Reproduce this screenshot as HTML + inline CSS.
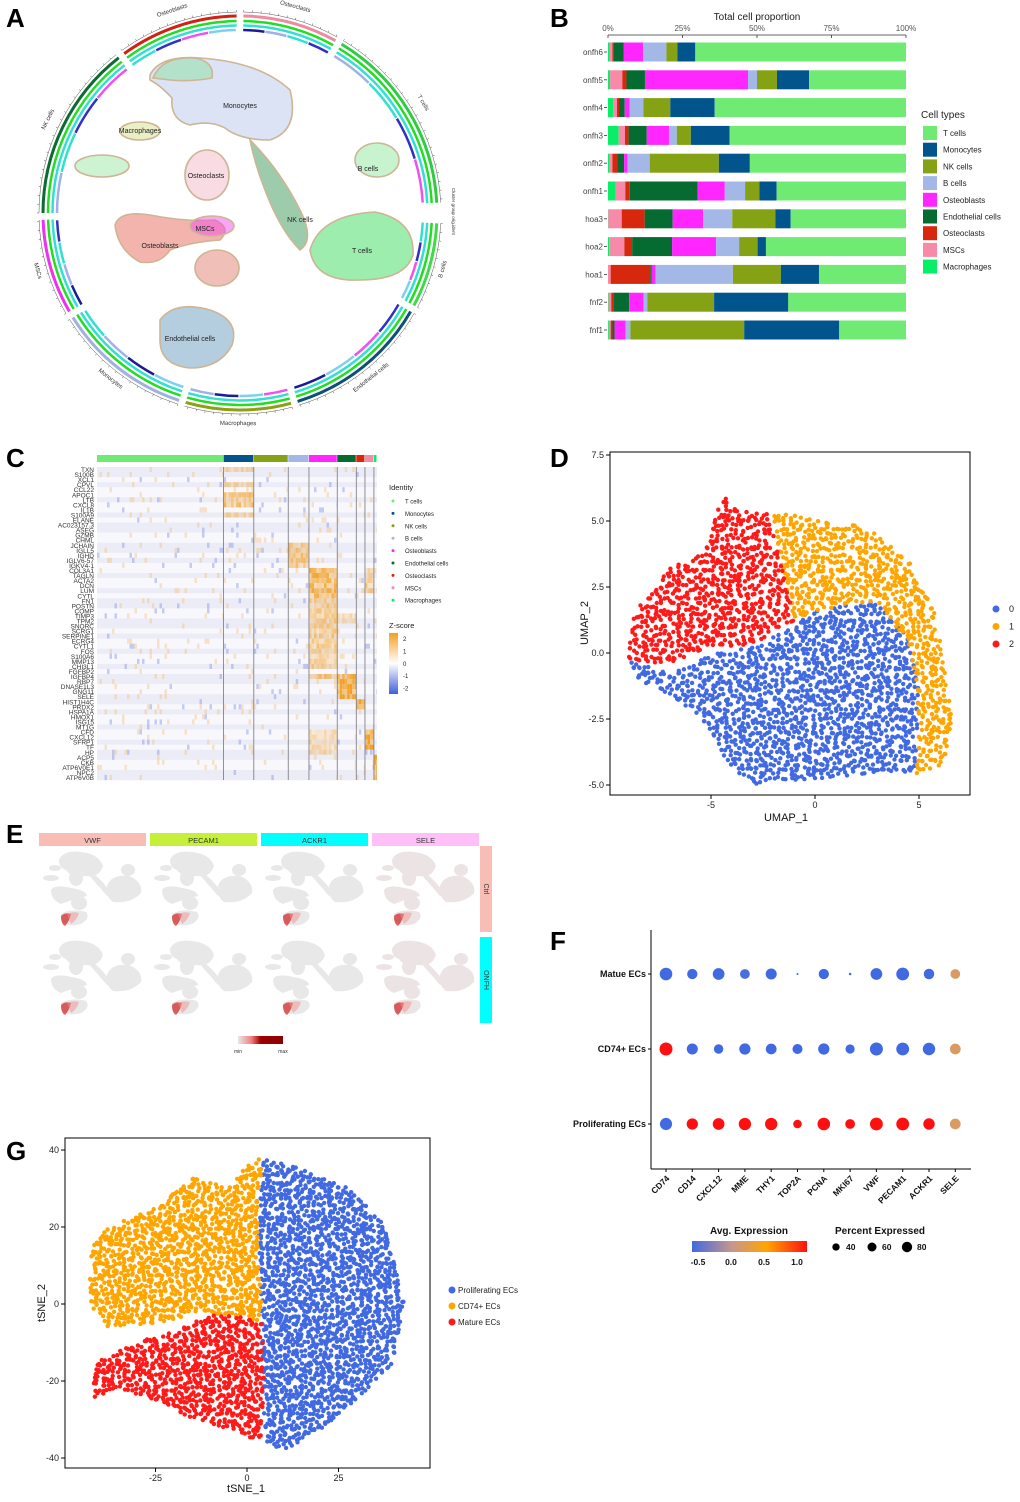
<!DOCTYPE html>
<html><head><meta charset="utf-8"><style>
body{margin:0;background:#fff;font-family:"Liberation Sans",Arial,sans-serif}
svg text{font-family:"Liberation Sans",Arial,sans-serif}
</style></head><body>
<svg id="fig" width="1020" height="1497" viewBox="0 0 1020 1497" xmlns="http://www.w3.org/2000/svg">
<rect width="1020" height="1497" fill="#fff"/>
<g font-weight="bold" font-size="26" fill="#000">
<text x="6" y="27">A</text>
<text x="550" y="27">B</text>
<text x="6" y="467">C</text>
<text x="550" y="467">D</text>
<text x="6" y="843">E</text>
<text x="550" y="950">F</text>
<text x="6" y="1160">G</text>
</g>
<g id="pA"></g>
<g id="pB"></g>
<g id="pC"></g>
<g id="pD"></g>
<g id="pE"></g>
<g id="pF"></g>
<g id="pG"></g>
</svg>
<script>
// ---------- DATA ----------
const cellTypes=["Macrophages","MSCs","Osteoclasts","Endothelial cells","Osteoblasts","B cells","NK cells","Monocytes","T cells"];
const typeColors=["#08EE66","#F78AA8","#D7280E","#056B31","#FF26FF","#A4B8E8","#84A214","#02558C","#6FEB74"];
const samples=["onfh6","onfh5","onfh4","onfh3","onfh2","onfh1","hoa3","hoa2","hoa1","fnf2","fnf1"];
const propMac=[0.5,0.7,1.8,3.6,0.6,2.5,0.1,0.4,0,0.2,0.3];
const propMSC=[1,4.1,1.2,2.1,0.9,3.3,4.5,5.1,0.9,0.9,0.6];
const propOstc=[0.3,1.4,0.7,1.2,1.7,1.5,7.7,2.6,13.3,0.7,0.6];
const propEndo=[3.4,6.2,1.9,6.1,2.2,22.8,9.4,13.4,0.5,5.3,0.7];
const propOstb=[6.6,34.6,1.7,7.5,1.2,9.1,10.2,14.8,1.3,4.9,3.7];
const propB=[7.8,3,4.6,2.6,7.4,6.8,9.8,7.7,25.9,1.2,1.6];
const propNK=[3.7,6.7,9,4.7,23.2,4.8,14.5,6.2,16.1,22.4,38.2];
const propMono=[6,10.8,14.9,13,10.4,5.8,5.1,2.8,12.8,24.9,31.9];
const propT=[70.7,32.5,64.2,59.2,52.4,43.4,38.7,47,29.2,39.5,22.4];
const xTicksB=["0%","25%","50%","75%","100%"];
const legendOrderB=["T cells","Monocytes","NK cells","B cells","Osteoblasts","Endothelial cells","Osteoclasts","MSCs","Macrophages"];

const genesF=["CD74","CD14","CXCL12","MME","THY1","TOP2A","PCNA","MKI67","VWF","PECAM1","ACKR1","SELE"];
const groupsF=["Matue ECs","CD74+ ECs","Proliferating ECs"];
const pctMatue=[75,50,65,45,58,2,50,3,65,78,52,45];
const pctCD74=[80,58,42,60,55,48,60,40,80,78,73,55];
const pctProl=[70,60,65,72,72,35,75,45,78,78,62,55];
const expMatue=[-0.6,-0.6,-0.6,-0.55,-0.6,-0.6,-0.6,-0.6,-0.6,-0.6,-0.6,0.15];
const expCD74=[1.1,-0.6,-0.6,-0.6,-0.6,-0.6,-0.6,-0.6,-0.6,-0.6,-0.6,0.15];
const expProl=[-0.6,1.1,1.1,1.1,1.1,1.1,1.1,1.1,1.1,1.1,1.1,0.15];

const dBlue=[[-9,-0.2],[-7,-0.8],[-5,0],[-3,0.2],[-1,1],[0,1.6],[3,2],[4.6,0.5],[5,-1.5],[4.8,-4.5],[2,-4.6],[0,-4.8],[-2,-4.8],[-3,-5],[-4,-4.5],[-5,-3],[-6.5,-1.8],[-8.5,-1]];
const dOrange=[[-2,5.3],[0,5.1],[2.5,4.8],[4.5,3.5],[5.8,1.5],[6.2,-0.5],[6.6,-2.5],[6.2,-4.2],[4.8,-4.6],[5,-2.5],[4.6,0.2],[3,2],[0,1.6],[-1,1.2],[-1.6,3]];
const dRed=[[-9,-0.3],[-8.7,1.5],[-7,3.2],[-5.3,4],[-4.8,5.2],[-4.3,6],[-3.8,5.4],[-2.2,5.3],[-1.5,3],[-1,1.2],[-3,0.3],[-5,0.2],[-7,-0.4]];
const dXTicks=[-5,0,5];const dYTicks=[-5,-2.5,0,2.5,5,7.5];
const gBlue=[[4,38],[15,35],[28,30],[38,20],[43,0],[40,-15],[30,-25],[20,-33],[10,-38],[5,-36],[4,-20],[4,0],[3,20]];
const gOrange=[[-43,15],[-38,20],[-25,25],[-15,33],[-5,30],[0,36],[4,38],[3,20],[4,0],[3,-5],[-5,-3],[-12,-2],[-25,-5],[-38,-6],[-43,0]];
const gRed=[[-43,-25],[-41,-15],[-30,-10],[-20,-7],[-10,-3],[-3,-3],[4,-5],[5,-20],[4,-36],[-3,-33],[-15,-30],[-25,-25],[-35,-22]];
const gXTicks=[-25,0,25];const gYTicks=[-40,-20,0,20,40];

const heatGenes=["TXN","S100B","XCL1","CPVL","CCL22","APOC1","LTB","CXCL8","IL1B","S100A9","ELANE","AC023157.3","ASEG","GZMB","CHML","JCHAIN","IGLL5","IGHD","IGLV6-57","IGKV4-1","COL3A1","TAGLN","ACTA2","DCN","LUM","CYTL","FN1","POSTN","COMP","TIMP3","TPM2","SNORC","SCRG1","SERPINE1","ECRG4","CYTL1","FOS","S100A6","MMP13","CHI3L1","FGFBP2","IGFBP4","RBP7","DNASE1L3","GNG11","SELE","HIST1H4C","PRDX2","HSPA1A","HMOX1","ISG15","MT1G","CFD","CXCL12","SFRP1","TF","HP","ACP5","CKB","ATP6V0E1","NPC2","ATP6V0B"];
const heatGroups=["T cells","Monocytes","NK cells","B cells","Osteoblasts","Endothelial cells","Osteoclasts","MSCs","Macrophages"];
const heatGroupFrac=[45.2,10.8,12.3,7.4,10.1,6.8,3.1,3.2,1.1];
const heatGroupColors=["#6FEB74","#02558C","#84A214","#A4B8E8","#FF26FF","#056B31","#D7280E","#F78AA8","#08EE66"];
const heatBlocks=[[0,0,1,0.8],[3,3,1,0.9],[5,7,1,1.4],[9,9,1,0.9],[15,19,3,1.2],[20,25,4,1.6],[26,39,4,1.1],[20,24,7,1],[29,30,5,0.8],[41,45,5,2],[46,47,6,2],[52,55,7,2.2],[57,61,8,2],[41,41,4,1.2],[52,56,4,0.8]];

// ---------- helpers ----------
const NS="http://www.w3.org/2000/svg";
function mk(par,tag,attrs,txt){const e=document.createElementNS(NS,tag);for(const k in attrs)e.setAttribute(k,attrs[k]);if(txt!==undefined)e.textContent=txt;par.appendChild(e);return e;}
function hash(a,b){let h=(a*374761393+b*668265263)>>>0;h=(h^(h>>>13))*1274126177>>>0;return ((h^(h>>>16))>>>0)/4294967296;}
function inPoly(p,poly){let c=false;for(let i=0,j=poly.length-1;i<poly.length;j=i++){const [xi,yi]=poly[i],[xj,yj]=poly[j];if(((yi>p[1])!=(yj>p[1]))&&(p[0]<(xj-xi)*(p[1]-yi)/(yj-yi)+xi))c=!c;}return c;}

// ---------- Panel B ----------
(function(){
const g=document.getElementById('pB');
const x0=608,x1=906,y0=52,step=27.8,bh=19;
const sx=v=>x0+(x1-x0)*v/100;
mk(g,'text',{x:757,y:20,'font-size':10,'text-anchor':'middle',fill:'#222',},'Total cell proportion');
mk(g,'line',{x1:x0,x2:x1,y1:35,y2:35,stroke:'#333','stroke-width':0.8,});
xTicksB.forEach((t,i)=>{const x=sx(i*25);mk(g,'line',{x1:x,x2:x,y1:35,y2:38,stroke:'#333','stroke-width':0.8});
 mk(g,'text',{x:x,y:31,'font-size':8,'text-anchor':'middle',fill:'#555',},t);});
const series=[propMac,propMSC,propOstc,propEndo,propOstb,propB,propNK,propMono,propT];
samples.forEach((s,i)=>{const yc=y0+i*step;let acc=0;
 mk(g,'text',{x:603,y:yc+3,'font-size':8,'text-anchor':'end',fill:'#444',},s);
 mk(g,'line',{x1:604,x2:607,y1:yc,y2:yc,stroke:'#333','stroke-width':0.8});
 series.forEach((ser,k)=>{const v=ser[i];const r=mk(g,'rect',{x:sx(acc),y:yc-bh/2,width:Math.max(0,sx(acc+v)-sx(acc)),height:bh,fill:typeColors[k]});
  acc+=v;});});
mk(g,'text',{x:921,y:118,'font-size':10,fill:'#222',},'Cell types');
legendOrderB.forEach((n,i)=>{const y=126+i*16.7;const c=typeColors[cellTypes.indexOf(n)];
 mk(g,'rect',{x:923,y:y,width:14,height:14,fill:c,});
 mk(g,'text',{x:943,y:y+10,'font-size':8,fill:'#222',},n);});
})();

// ---------- Panel F ----------
(function(){
const g=document.getElementById('pF');
const ax=651,ab=1169,c0=666,cs=26.3,rows=[974,1049,1124];
function col(v){const st=[[-0.6,[65,105,225]],[0,[200,150,140]],[0.5,[255,165,0]],[1.1,[255,16,16]]];
 v=Math.max(-0.6,Math.min(1.1,v));for(let i=0;i<st.length-1;i++){if(v<=st[i+1][0]){const t=(v-st[i][0])/(st[i+1][0]-st[i][0]);const a=st[i][1],b=st[i+1][1];return 'rgb('+a.map((q,k)=>Math.round(q+(b[k]-q)*t)).join(',')+')';}}return 'rgb(255,16,16)';}
const rad=p=>Math.sqrt(p/80)*6.5;
mk(g,'line',{x1:ax,x2:ax,y1:930,y2:ab,stroke:'#000','stroke-width':1,});
mk(g,'line',{x1:ax,x2:971,y1:ab,y2:ab,stroke:'#000','stroke-width':1,});
const pcts=[pctMatue,pctCD74,pctProl],exps=[expMatue,expCD74,expProl];
groupsF.forEach((gn,r)=>{mk(g,'text',{x:646,y:rows[r]+3,'font-size':9,'font-weight':'bold','text-anchor':'end',fill:'#111',},gn);
 mk(g,'line',{x1:648,x2:ax,y1:rows[r],y2:rows[r],stroke:'#000'});
 genesF.forEach((gene,c)=>{const d=mk(g,'circle',{cx:c0+c*cs,cy:rows[r],r:rad(pcts[r][c]),fill:col(exps[r][c])});
  });});
genesF.forEach((gene,c)=>{const x=c0+c*cs;mk(g,'line',{x1:x,x2:x,y1:ab,y2:ab+3,stroke:'#000'});
 mk(g,'text',{x:x+4,y:ab+10,'font-size':8.5,'font-weight':'bold','text-anchor':'end',fill:'#111',transform:'rotate(-45 '+(x+4)+' '+(ab+10)+')',},gene);});
const defs=mk(g,'defs',{});const lg=mk(defs,'linearGradient',{id:'fgrad'});
[[0,'#4169E1'],[0.35,'#C8968C'],[0.65,'#FFA500'],[1,'#FF1010']].forEach(s=>mk(lg,'stop',{offset:s[0],'stop-color':s[1]}));
mk(g,'text',{x:749,y:1234,'font-size':10,'font-weight':'bold','text-anchor':'middle',fill:'#111',},'Avg. Expression');
mk(g,'rect',{x:692,y:1241,width:115,height:11,fill:'url(#fgrad)',});
["-0.5","0.0","0.5","1.0"].forEach((t,i)=>mk(g,'text',{x:698+i*33,y:1265,'font-size':8.5,'font-weight':'bold','text-anchor':'middle',fill:'#111',},t));
mk(g,'text',{x:880,y:1234,'font-size':10,'font-weight':'bold','text-anchor':'middle',fill:'#111',},'Percent Expressed');
[[40,836],[60,872],[80,907]].forEach(s=>{mk(g,'circle',{cx:s[1],cy:1247,r:rad(s[0])*0.8,fill:'#000',});
 mk(g,'text',{x:s[1]+10,y:1250,'font-size':8.5,'font-weight':'bold',fill:'#111',},String(s[0]));});
})();

// ---------- scatter helper ----------
function scatter(g,polys,colors,sx,sy,xr,yr,stepX,stepY,r){
 polys.forEach((poly,k)=>{let i=0;for(let x=xr[0];x<=xr[1];x+=stepX){let j=0;for(let y=yr[0];y<=yr[1];y+=stepY){
  const px=x+(hash(i,j+k*999)-0.5)*stepX*1.3,py=y+(hash(j+7,i+k*31)-0.5)*stepY*1.3;
  if(inPoly([px,py],poly)&&hash(i*3+k,j*5)>0.04){mk(g,'circle',{cx:sx(px).toFixed(1),cy:sy(py).toFixed(1),r:r,fill:colors[k]});}
  j++;}i++;}});
}

// ---------- Panel D ----------
(function(){
const g=document.getElementById('pD');
const sx=v=>815+v*20.8,sy=v=>653-v*26.4;
mk(g,'rect',{x:610,y:452,width:360,height:343,fill:'#fff',stroke:'#000','stroke-width':1,});
const pts=mk(g,'g',{});
scatter(pts,[dBlue,dOrange,dRed],['#4169E1','#FFA500','#FF1A1A'],sx,sy,[-9.2,7],[-5.2,7.2],0.21,0.175,2.2);
dXTicks.forEach(t=>{const x=sx(t);mk(g,'line',{x1:x,x2:x,y1:795,y2:799,stroke:'#000'});mk(g,'text',{x:x,y:808,'font-size':9,'text-anchor':'middle',fill:'#222',},String(t));});
dYTicks.forEach(t=>{const y=sy(t);mk(g,'line',{x1:606,x2:610,y1:y,y2:y,stroke:'#000'});mk(g,'text',{x:604,y:y+3,'font-size':9,'text-anchor':'end',fill:'#222',},t.toFixed(1));});
mk(g,'text',{x:786,y:821,'font-size':11,'text-anchor':'middle',fill:'#111',},'UMAP_1');
mk(g,'text',{x:588,y:623,'font-size':11,'text-anchor':'middle',fill:'#111',transform:'rotate(-90 588 623)',},'UMAP_2');
[['0','#4169E1'],['1','#FFA500'],['2','#FF1A1A']].forEach((l,i)=>{const y=609+i*17.5;mk(g,'circle',{cx:996,cy:y,r:3.5,fill:l[1],});mk(g,'text',{x:1009,y:y+3,'font-size':9,fill:'#222',},l[0]);});
})();

// ---------- Panel G ----------
(function(){
const g=document.getElementById('pG');
const sx=v=>247+v*3.66,sy=v=>1304-v*3.85;
mk(g,'rect',{x:65,y:1138,width:365,height:330,fill:'#fff',stroke:'#000','stroke-width':1,});
const pts=mk(g,'g',{});
scatter(pts,[gBlue,gOrange,gRed],['#4169E1','#FFA500','#FF1A1A'],sx,sy,[-44,44],[-40,40],1.1,1.0,2.2);
gXTicks.forEach(t=>{const x=sx(t);mk(g,'line',{x1:x,x2:x,y1:1468,y2:1472,stroke:'#000'});mk(g,'text',{x:x,y:1481,'font-size':9,'text-anchor':'middle',fill:'#222',},String(t));});
gYTicks.forEach(t=>{const y=sy(t);mk(g,'line',{x1:61,x2:65,y1:y,y2:y,stroke:'#000'});mk(g,'text',{x:59,y:y+3,'font-size':9,'text-anchor':'end',fill:'#222',},String(t));});
mk(g,'text',{x:246,y:1492,'font-size':11,'text-anchor':'middle',fill:'#111',},'tSNE_1');
mk(g,'text',{x:45,y:1303,'font-size':11,'text-anchor':'middle',fill:'#111',transform:'rotate(-90 45 1303)',},'tSNE_2');
[['Proliferating ECs','#4169E1'],['CD74+ ECs','#FFA500'],['Mature ECs','#FF1A1A']].forEach((l,i)=>{const y=1290+i*16;mk(g,'circle',{cx:452,cy:y,r:3.5,fill:l[1],});mk(g,'text',{x:458,y:y+3,'font-size':8,fill:'#222',},l[0]);});
})();

// ---------- Panel C ----------
(function(){
const g=document.getElementById('pC');
const X0=97,X1=377,Y0=467,Y1=780;const rh=(Y1-Y0)/heatGenes.length;
const tot=heatGroupFrac.reduce((a,b)=>a+b,0);const bounds=[X0];let acc=0;
heatGroupFrac.forEach(f=>{acc+=f;bounds.push(X0+(X1-X0)*acc/tot);});
heatGroups.forEach((n,k)=>mk(g,'rect',{x:bounds[k],y:455,width:bounds[k+1]-bounds[k]-0.5,height:7,fill:heatGroupColors[k],}));
const cells=mk(g,'g',{});
const cw=2.5;
heatGenes.forEach((gn,r)=>{const y=Y0+r*rh;const base=(r%3===0||r%5===1)?'#ECECF7':'#F7F7FC';
 mk(cells,'rect',{x:X0,y:y,width:X1-X0,height:rh+0.2,fill:base});
 heatGroups.forEach((_,k)=>{let z=0;heatBlocks.forEach(b=>{if(r>=b[0]&&r<=b[1]&&k===b[2])z=b[3];});
  for(let x=bounds[k];x<bounds[k+1]-0.5;x+=cw){const h=hash(Math.round(x*3),r*17+k);let v=z>0?z*(0.4+h):(h>0.95?0.6:(h<0.02?-0.8:0));
   if(Math.abs(v)<0.3)continue;const a=Math.min(1,Math.abs(v)/2.4);
   mk(cells,'rect',{x:x.toFixed(1),y:y,width:Math.min(cw,bounds[k+1]-x),height:rh+0.2,fill:v>0?'#F2A024':'#5D74DE','fill-opacity':a.toFixed(2)});}});
 mk(g,'text',{x:94,y:y+rh,'font-size':6.5,'text-anchor':'end',fill:'#333',},gn);});
bounds.slice(1,-1).forEach(b=>mk(g,'line',{x1:b,x2:b,y1:Y0,y2:Y1,stroke:'#777','stroke-width':0.8}));
mk(g,'text',{x:389,y:490,'font-size':7.5,fill:'#222',},'Identity');
heatGroups.forEach((n,k)=>{const y=501+k*12.4;mk(g,'circle',{cx:393,cy:y,r:1.5,fill:heatGroupColors[k]});mk(g,'text',{x:405,y:y+2.5,'font-size':6,fill:'#222',},n);});
mk(g,'text',{x:389,y:628,'font-size':7.5,fill:'#222',},'Z-score');
const defs=mk(g,'defs',{});const lg=mk(defs,'linearGradient',{id:'zgrad',x1:0,y1:0,x2:0,y2:1});
[[0,'#F2A024'],[0.5,'#FFFFFF'],[1,'#4060D8']].forEach(s=>mk(lg,'stop',{offset:s[0],'stop-color':s[1]}));
mk(g,'rect',{x:389,y:633,width:9,height:61,fill:'url(#zgrad)',});
["2","1","0","-1","-2"].forEach((t,i)=>mk(g,'text',{x:403,y:641+i*12.4,'font-size':6,fill:'#222',},t));
})();

// ---------- Panel A ----------
(function(){
const g=document.getElementById('pA');
const cx=240,cy=213;
const sectors=[["Osteoclasts",1,29,"#F08AA0"],["T cells",31,87,"#2ECC40"],["B cells",93,118,"#3FD94A"],["Endothelial cells",120,163,"#0B4F7A"],["Macrophages",165,196,"#8BA012"],["Monocytes",198,238,"#A0B0E0"],["MSCs",240,268,"#F030F0"],["NK cells",270,322,"#0B6B30"],["Osteoblasts",324,359,"#D42010"]];
function arc(r,a0,a1){const p=a=>{const t=(a-90)*Math.PI/180;return [cx+r*Math.cos(t),cy+r*Math.sin(t)];};const s=p(a0),e=p(a1);return 'M'+s[0].toFixed(1)+' '+s[1].toFixed(1)+' A'+r+' '+r+' 0 '+((a1-a0)>180?1:0)+' 1 '+e[0].toFixed(1)+' '+e[1].toFixed(1);}
const inner=["#1A1A9A","#A0B0E8","#30E0D0","#3030C8","#F050F0","#7ED0F0"];
sectors.forEach((s,i)=>{
 mk(g,'path',{d:arc(197,s[1],s[2]),fill:'none',stroke:s[3],'stroke-width':3,});
 mk(g,'path',{d:arc(201,s[1],s[2]),fill:'none',stroke:'#555','stroke-width':0.5});
 for(let a=s[1];a<=s[2];a+=2.5){const t=(a-90)*Math.PI/180;mk(g,'line',{x1:cx+201*Math.cos(t),y1:cy+201*Math.sin(t),x2:cx+203*Math.cos(t),y2:cy+203*Math.sin(t),stroke:'#555','stroke-width':0.5});}
 mk(g,'path',{d:arc(192,s[1],s[2]),fill:'none',stroke:'#22DD22','stroke-width':2.5});
 mk(g,'path',{d:arc(187.5,s[1],s[2]),fill:'none',stroke:'#30E0D0','stroke-width':2.5});
 const n=4;for(let k=0;k<n;k++){const a0=s[1]+(s[2]-s[1])*k/n,a1=s[1]+(s[2]-s[1])*(k+1)/n;mk(g,'path',{d:arc(183,a0,a1-0.3),fill:'none',stroke:inner[(i+k)%inner.length],'stroke-width':2.5});}
 const am=(s[1]+s[2])/2,t=(am-90)*Math.PI/180;const lx=cx+212*Math.cos(t),ly=cy+212*Math.sin(t);let rot=am;if(am>90&&am<270)rot=am-180;
 mk(g,'text',{x:lx.toFixed(1),y:ly.toFixed(1),'font-size':6,'text-anchor':'middle',fill:'#333',transform:'rotate('+rot.toFixed(1)+' '+lx.toFixed(1)+' '+ly.toFixed(1)+')',},s[0]);});
const blobs=[["M150 75 Q160 55 200 58 Q260 62 290 90 Q300 130 270 140 Q240 140 225 128 Q210 120 190 125 Q170 120 172 98 Q160 85 150 80Z","#B8C8EC","Monocytes",240,108],
["M153 78 Q162 56 195 58 Q215 62 212 78 Q190 82 170 80Z","#8CE0A0",null],
["M120 131 a20 9 0 1 0 40 0 a20 9 0 1 0 -40 0Z","#D8E08C","Macrophages",140,133],
["M75 166 a27 11 0 1 0 54 0 a27 11 0 1 0 -54 0Z","#9CE8A8",null],
["M185 175 a22 25 0 1 0 44 0 a22 25 0 1 0 -44 0Z","#F4B8C8","Osteoclasts",206,178],
["M355 160 a22 17 0 1 0 44 0 a22 17 0 1 0 -44 0Z","#90E8A0","B cells",368,171],
["M310 250 Q320 215 375 212 Q415 220 413 255 Q405 280 360 280 Q315 282 310 250Z","#3CDC60","T cells",362,253],
["M250 140 Q280 170 300 210 Q315 240 300 250 Q280 230 265 190 Q255 165 250 140Z","#3C9A5A","NK cells",300,222],
["M115 225 Q120 210 150 215 Q185 222 215 220 Q232 228 220 240 Q190 242 170 250 Q160 265 140 262 Q118 250 115 225Z","#E86A5C","Osteoblasts",160,248],
["M190 226 a22 10 0 1 0 44 0 a22 10 0 1 0 -44 0Z","#F050E8","MSCs",205,231],
["M195 268 a22 18 0 1 0 44 0 a22 18 0 1 0 -44 0Z","#E28070",null],
["M160 320 Q175 300 210 310 Q240 320 232 345 Q220 368 190 368 Q160 365 160 340Z","#6A9CC0","Endothelial cells",190,341]];
blobs.forEach((b,i)=>{mk(g,'path',{d:b[0],fill:b[1],'fill-opacity':0.5,stroke:'#CDB595','stroke-width':1.6,});});
blobs.forEach(b=>{if(b[2])mk(g,'text',{x:b[3],y:b[4],'font-size':7,'text-anchor':'middle',fill:'#222',},b[2]);});
mk(g,'text',{x:452,y:188,'font-size':4.5,fill:'#333',transform:'rotate(90 452 188)',},'Cluster group orig.ident');
})();

// ---------- Panel E ----------
(function(){
const g=document.getElementById('pE');
const heads=[["VWF","#F8BDB5"],["PECAM1","#C5F03A"],["ACKR1","#00FFFF"],["SELE","#FFC0F8"]];
const rowsE=[["Ctrl","#F8BDB5",846],["ONFH","#00FFFF",937]];
heads.forEach((h,i)=>{const x=39+i*111;mk(g,'rect',{x:x,y:833,width:107,height:13,fill:h[1],});
 mk(g,'text',{x:x+53.5,y:843,'font-size':7.5,'text-anchor':'middle',fill:'#333',},h[0]);});
rowsE.forEach((r,j)=>{mk(g,'rect',{x:480,y:r[2],width:12,height:86,fill:r[1],});
 mk(g,'text',{x:484,y:r[2]+43,'font-size':7,'text-anchor':'middle',fill:'#333',transform:'rotate(90 484 '+(r[2]+43)+')',},r[0]);});
const shapes=["M18 12 Q22 2 40 4 Q58 6 62 18 Q58 30 45 28 Q30 30 25 22 Q18 20 18 12Z","M8 20 a6 3 0 1 0 12 0 a6 3 0 1 0 -12 0Z","M2 30 a8 3 0 1 0 16 0 a8 3 0 1 0 -16 0Z","M28 30 a7 8 0 1 0 14 0 a7 8 0 1 0 -14 0Z","M10 42 Q14 36 30 40 Q45 42 46 48 Q30 52 20 56 Q10 52 10 42Z","M30 55 a8 7 0 1 0 16 0 a8 7 0 1 0 -16 0Z","M66 38 Q70 26 88 28 Q102 34 100 45 Q90 56 72 54 Q64 48 66 38Z","M80 22 a7 6 0 1 0 14 0 a7 6 0 1 0 -14 0Z","M45 20 Q60 30 70 45 L66 48 Q55 35 45 24Z","M20 66 Q30 60 45 64 Q50 70 40 76 Q25 80 20 72Z"];
for(let j=0;j<2;j++)for(let i=0;i<4;i++){const ox=41+i*111,oy=848+j*89;const sg=mk(g,'g',{transform:'translate('+ox+' '+oy+')',});
 shapes.forEach(d=>mk(sg,'path',{d:d,fill:i===3?'#ECE4E4':'#E8E8E8'}));
 mk(sg,'path',{d:"M20 68 Q24 64 30 66 Q28 74 24 78 Q20 76 20 68Z",fill:'#D02020','fill-opacity':0.7});
 mk(sg,'path',{d:"M26 66 Q32 63 38 65 Q36 72 30 76Z",fill:'#F09090','fill-opacity':0.5});}
const defs=mk(g,'defs',{});const lg=mk(defs,'linearGradient',{id:'egrad'});
[[0,'#E8E8E8'],[0.3,'#F08080'],[0.5,'#A00000'],[1,'#8B0000']].forEach(s=>mk(lg,'stop',{offset:s[0],'stop-color':s[1]}));
mk(g,'rect',{x:238,y:1036,width:45,height:8,fill:'url(#egrad)',});
mk(g,'text',{x:238,y:1053,'font-size':5,'text-anchor':'middle',fill:'#333',},'min');
mk(g,'text',{x:283,y:1053,'font-size':5,'text-anchor':'middle',fill:'#333',},'max');
})();
</script>
</body></html>
